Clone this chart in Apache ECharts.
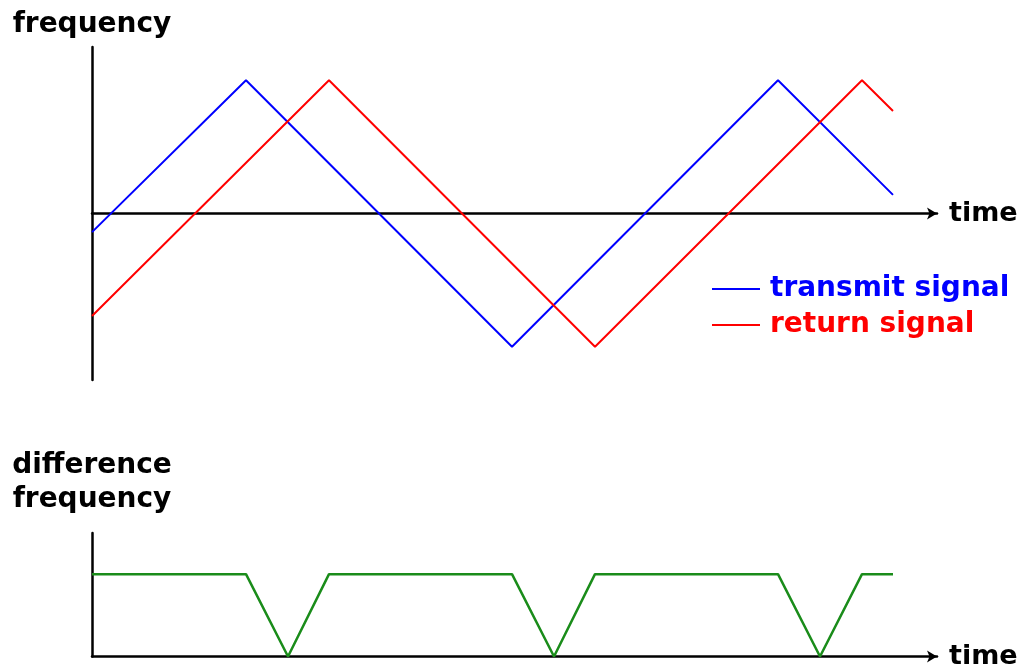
<!DOCTYPE html>
<html>
<head>
<meta charset="utf-8">
<script src="https://cdn.jsdelivr.net/npm/echarts@6/dist/echarts.min.js"></script>
<style>
  html, body { margin: 0; padding: 0; background: #fff; }
  #chart { width: 1024px; height: 670px; }
</style>
</head>
<body>
<div id="chart"></div>
<script>
// transmit / return signal (time in arbitrary units, frequency scaled to +-1)
const transmitTime = [0, 154, 420, 686, 801]
const transmitFreq = [-0.14, 1, -1, 1, 0.14]
const returnTime = [0, 237, 503, 770, 801]
const returnFreq = [-0.77, 1, -1, 1, 0.77]

// difference frequency
const diffTime = [0, 154, 196, 237, 420, 462, 503, 686, 728, 770, 801]
const diffFreq = [1, 1, 0, 1, 1, 0, 1, 1, 0, 1, 1]

const legendNames = ['transmit signal', 'return signal']

const zip = (xs, ys) => xs.map((x, i) => [x, ys[i]])

const font = 'DejaVu Sans'
const labelStyle = { fontFamily: font, fontWeight: 'bold', fontSize: 28, color: '#000' }

const chart = echarts.init(document.getElementById('chart'))

function xAxisFor(gridIndex) {
  return {
    type: 'value',
    gridIndex: gridIndex,
    min: 0,
    max: 845,
    name: 'time',
    nameLocation: 'end',
    nameGap: 12,
    nameTextStyle: Object.assign({}, labelStyle, { fontSize: 27 }),
    axisLine: {
      onZero: true,
      symbol: ['none', 'arrow'],
      symbolSize: [9, 10],
      lineStyle: { color: '#000', width: 2.5 }
    },
    axisTick: { show: false },
    axisLabel: { show: false },
    splitLine: { show: false }
  }
}

const option = {
  animation: false,
  grid: [
    { left: 92, top: 47, width: 845, height: 333 },
    { left: 92, top: 533, width: 845, height: 126 }
  ],
  xAxis: [xAxisFor(0), xAxisFor(1)],
  yAxis: [
    {
      type: 'value',
      gridIndex: 0,
      min: -1.25,
      max: 1.25,
      name: 'frequency',
      nameLocation: 'end',
      nameGap: 8,
      nameTextStyle: labelStyle,
      axisLine: { show: true, lineStyle: { color: '#000', width: 2.5 } },
      axisTick: { show: false },
      axisLabel: { show: false },
      splitLine: { show: false }
    },
    {
      type: 'value',
      gridIndex: 1,
      min: 0,
      max: 1.5,
      name: 'difference\nfrequency',
      nameLocation: 'end',
      nameGap: 16,
      nameTextStyle: Object.assign({}, labelStyle, { lineHeight: 34 }),
      axisLine: { show: true, lineStyle: { color: '#000', width: 2.5 } },
      axisTick: { show: false },
      axisLabel: { show: false },
      splitLine: { show: false }
    }
  ],
  legend: {
    orient: 'vertical',
    left: 707,
    top: 270,
    itemGap: 8,
    itemWidth: 48,
    itemHeight: 2,
    icon: 'rect',
    textStyle: { fontFamily: font, fontWeight: 'bold', fontSize: 28, padding: [0, 0, 0, 5] },
    data: [
      { name: legendNames[0], textStyle: { color: '#0000ff' } },
      { name: legendNames[1], textStyle: { color: '#ff0000' } }
    ]
  },
  series: [
    {
      name: legendNames[0],
      type: 'line',
      xAxisIndex: 0,
      yAxisIndex: 0,
      symbol: 'none',
      color: '#0000ff',
      lineStyle: { width: 2 },
      data: zip(transmitTime, transmitFreq)
    },
    {
      name: legendNames[1],
      type: 'line',
      xAxisIndex: 0,
      yAxisIndex: 0,
      symbol: 'none',
      color: '#ff0000',
      lineStyle: { width: 2 },
      data: zip(returnTime, returnFreq)
    },
    {
      name: 'difference',
      type: 'line',
      xAxisIndex: 1,
      yAxisIndex: 1,
      symbol: 'none',
      color: '#1a8c1a',
      lineStyle: { width: 2.5 },
      data: zip(diffTime, diffFreq)
    }
  ]
}

chart.setOption(option)
</script>
</body>
</html>
